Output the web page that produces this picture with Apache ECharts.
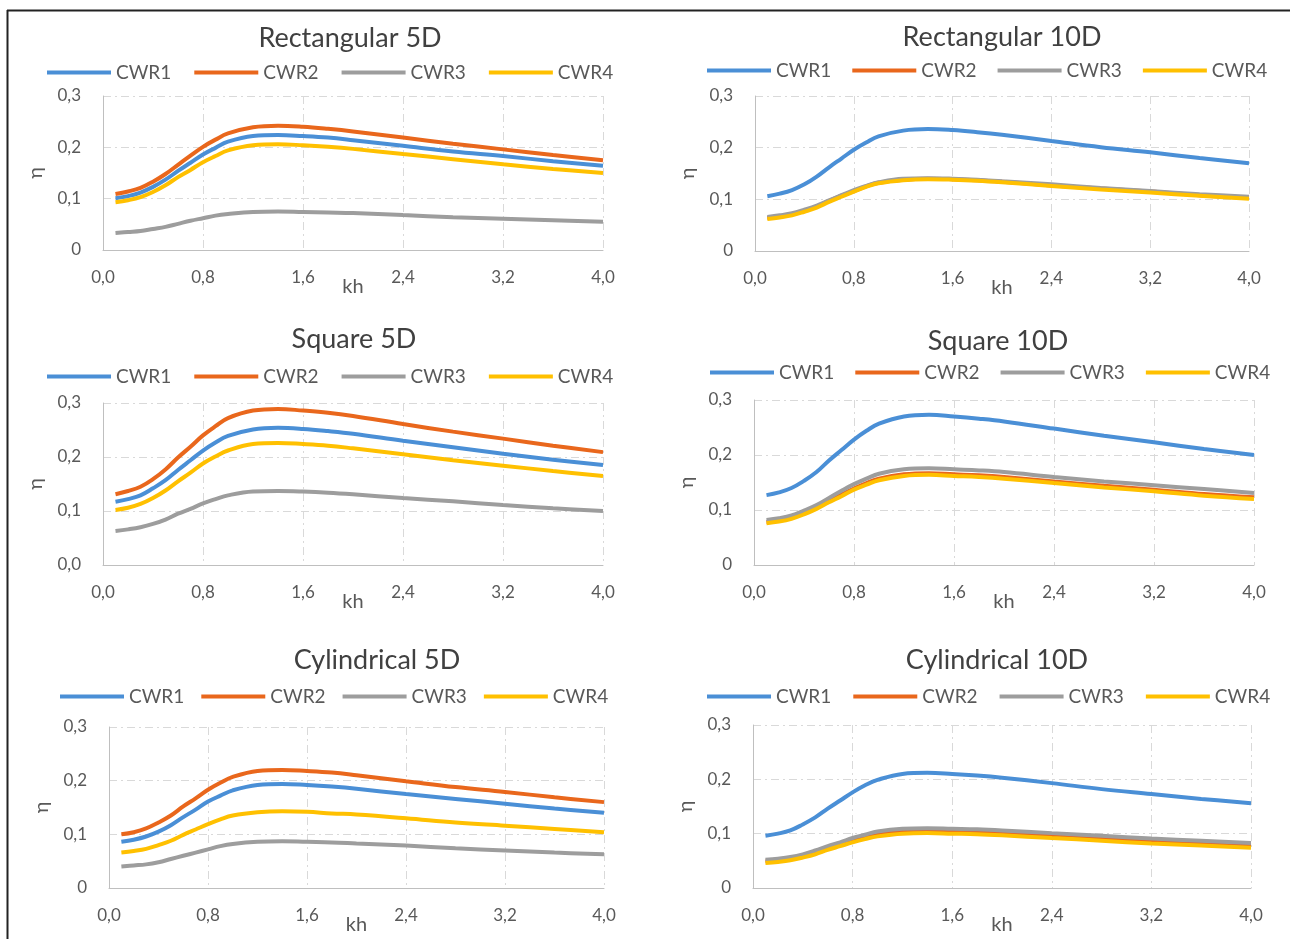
<!DOCTYPE html>
<html>
<head>
<meta charset="utf-8">
<script src="https://cdn.jsdelivr.net/npm/echarts@6/dist/echarts.min.js"></script>
<style>
html,body{margin:0;padding:0;background:#fff;}
#c{width:1290px;height:939px;}
</style>
</head>
<body>
<div id="c"></div>
<script>
// ---- data ----
const kh = [0.1,0.2,0.3,0.4,0.5,0.6,0.7,0.8,0.9,1.0,1.2,1.4,1.6,1.8,2.0,2.4,2.8,3.2,3.6,4.0];
const seriesNames = ['CWR1','CWR2','CWR3','CWR4'];
const panelTitles = ['Rectangular 5D','Rectangular 10D','Square 5D','Square 10D','Cylindrical 5D','Cylindrical 10D'];
const xTicks = [0,0.8,1.6,2.4,3.2,4.0];
const yTicks = [0,0.1,0.2,0.3];

const rect5D_CWR1 = [.101,.105,.112,.123,.137,.154,.170,.186,.199,.211,.222,.224,.222,.219,.214,.203,.192,.183,.173,.164];
const rect5D_CWR2 = [.109,.114,.121,.133,.148,.166,.184,.201,.215,.227,.239,.242,.240,.236,.231,.219,.207,.196,.185,.175];
const rect5D_CWR3 = [.033,.035,.037,.041,.045,.051,.057,.062,.067,.070,.074,.075,.074,.073,.072,.068,.064,.061,.058,.055];
const rect5D_CWR4 = [.093,.097,.103,.113,.126,.142,.156,.171,.183,.194,.204,.206,.204,.201,.197,.187,.177,.167,.158,.150];

const rect10D_CWR1 = [.106,.111,.118,.129,.144,.162,.179,.196,.210,.222,.233,.236,.234,.230,.225,.213,.201,.191,.180,.170];
const rect10D_CWR2 = [.064,.067,.071,.078,.086,.097,.107,.116,.125,.132,.138,.140,.139,.137,.134,.127,.121,.115,.108,.103];
const rect10D_CWR3 = [.066,.069,.073,.080,.088,.098,.108,.118,.126,.133,.140,.141,.140,.138,.135,.129,.122,.116,.110,.105];
const rect10D_CWR4 = [.062,.065,.069,.076,.084,.095,.105,.115,.124,.131,.137,.139,.138,.136,.133,.126,.119,.113,.107,.101];

const square5D_CWR1 = [.117,.122,.129,.142,.157,.176,.194,.212,.227,.239,.251,.254,.252,.248,.243,.230,.218,.206,.195,.185];
const square5D_CWR2 = [.131,.137,.145,.159,.177,.199,.219,.240,.257,.272,.286,.289,.286,.282,.276,.261,.247,.234,.221,.209];
const square5D_CWR3 = [.063,.066,.070,.076,.084,.095,.104,.114,.122,.129,.136,.137,.136,.134,.131,.124,.118,.111,.105,.100];
const square5D_CWR4 = [.102,.106,.113,.124,.138,.155,.171,.188,.201,.212,.224,.226,.224,.221,.216,.205,.194,.184,.174,.165];

const square10D_CWR1 = [.127,.132,.140,.153,.169,.190,.209,.228,.244,.257,.270,.273,.270,.266,.261,.248,.235,.223,.211,.200];
const square10D_CWR2 = [.078,.081,.086,.094,.104,.116,.128,.139,.149,.157,.165,.167,.165,.163,.160,.152,.144,.137,.129,.123];
const square10D_CWR3 = [.082,.085,.090,.099,.109,.122,.135,.147,.157,.166,.174,.176,.174,.172,.169,.160,.152,.145,.138,.131];
const square10D_CWR4 = [.076,.079,.084,.092,.102,.114,.125,.137,.146,.154,.162,.164,.162,.160,.157,.149,.141,.134,.126,.120];

const cyl5D_CWR1 = [.086,.090,.096,.105,.117,.132,.146,.161,.172,.182,.192,.194,.192,.189,.185,.175,.166,.157,.148,.140];
const cyl5D_CWR2 = [.100,.104,.111,.122,.135,.152,.167,.183,.196,.207,.218,.220,.218,.215,.210,.199,.188,.179,.169,.160];
const cyl5D_CWR3 = [.040,.042,.044,.048,.054,.060,.066,.072,.078,.082,.086,.087,.086,.085,.083,.079,.074,.070,.066,.063];
const cyl5D_CWR4 = [.066,.069,.073,.080,.088,.099,.109,.119,.128,.135,.141,.143,.142,.139,.137,.130,.122,.116,.110,.104];

const cyl10D_CWR1 = [.096,.100,.106,.117,.130,.146,.161,.176,.189,.199,.210,.212,.210,.207,.203,.193,.182,.173,.164,.156];
const cyl10D_CWR2 = [.049,.051,.054,.059,.065,.073,.080,.088,.094,.099,.104,.105,.104,.103,.101,.096,.091,.086,.082,.078];
const cyl10D_CWR3 = [.052,.054,.057,.062,.069,.077,.084,.092,.098,.104,.109,.110,.109,.108,.106,.101,.096,.091,.087,.083];
const cyl10D_CWR4 = [.046,.048,.051,.056,.062,.070,.077,.084,.090,.095,.100,.101,.100,.099,.097,.092,.087,.082,.078,.074];

const panelData = [
  [rect5D_CWR1, rect5D_CWR2, rect5D_CWR3, rect5D_CWR4],
  [rect10D_CWR1, rect10D_CWR2, rect10D_CWR3, rect10D_CWR4],
  [square5D_CWR1, square5D_CWR2, square5D_CWR3, square5D_CWR4],
  [square10D_CWR1, square10D_CWR2, square10D_CWR3, square10D_CWR4],
  [cyl5D_CWR1, cyl5D_CWR2, cyl5D_CWR3, cyl5D_CWR4],
  [cyl10D_CWR1, cyl10D_CWR2, cyl10D_CWR3, cyl10D_CWR4]
];
const yZeroLabels = ['0','0','0,0','0','0','0'];

// ---- layout & style ----
const FONT = 'Lato';
const colors = ['#4A8FD6','#E9671C','#9D9D9D','#FFC000'];
const layout = [
  {l:103,r:603,t:96,b:250, tx:350, ty:41, lx:47,  ly:73},
  {l:755,r:1249,t:96,b:251, tx:1002,ty:40, lx:707, ly:71},
  {l:103,r:603,t:403,b:565, tx:354, ty:342, lx:47, ly:377},
  {l:754,r:1254,t:400,b:565, tx:998, ty:344, lx:710, ly:373},
  {l:109,r:604,t:727,b:888, tx:377, ty:663, lx:60, ly:697},
  {l:753,r:1251,t:725,b:888, tx:997, ty:663, lx:707, ly:697}
];
const legendGaps = [23,21,23,21,17,22];

const chart = echarts.init(document.getElementById('c'), null, {renderer:'canvas'});
const grids=[], xAxes=[], yAxes=[], series=[], titles=[], legends=[];
const fmt = v => v.toFixed(1).replace('.', ',');

layout.forEach((L, i) => {
  grids.push({left:L.l, top:L.t, width:L.r-L.l, height:L.b-L.t, containLabel:false});
  titles.push({
    text: panelTitles[i], left: L.tx, top: L.ty-16, textAlign:'center', padding:0,
    textStyle:{fontFamily:FONT, fontSize:27, fontWeight:'normal', color:'#404040'}
  });
  legends.push({
    data: seriesNames, left: L.lx, top: L.ly-10, padding:0, itemGap: legendGaps[i],
    itemWidth:64, itemHeight:4, icon:'rect', selectedMode:false,
    textStyle:{fontFamily:FONT, fontSize:19, color:'#595959'}
  });
  xAxes.push({
    type:'value', gridIndex:i, min:0, max:4.0, interval:0.8,
    name:'kh', nameLocation:'middle', nameGap:27, nameMoveOverlap:false,
    nameTextStyle:{fontFamily:FONT, fontSize:20, color:'#595959'},
    axisLine:{show:true, lineStyle:{color:'#BFBFBF', width:1}},
    axisTick:{show:false},
    axisLabel:{margin:19, fontFamily:FONT, fontSize:17, color:'#595959',
      formatter: v => fmt(v)},
    splitLine:{show:true, lineStyle:{color:'#D9D9D9', width:1, type:[8,4,2,4]}}
  });
  yAxes.push({
    type:'value', gridIndex:i, min:0, max:0.3, interval:0.1,
    name:'η', nameLocation:'middle', nameGap:57, nameRotate:90, nameMoveOverlap:false,
    nameTextStyle:{fontFamily:FONT, fontSize:20, color:'#595959'},
    axisLine:{show:true, lineStyle:{color:'#BFBFBF', width:1}},
    axisTick:{show:false},
    axisLabel:{margin:22, fontFamily:FONT, fontSize:17, color:'#595959',
      formatter: v => (Math.abs(v) < 1e-9 ? yZeroLabels[i] : fmt(v))},
    splitLine:{show:true, lineStyle:{color:'#D9D9D9', width:1, type:[8,4,2,4]}}
  });
  panelData[i].forEach((arr, k) => {
    series.push({
      type:'line', name:seriesNames[k], xAxisIndex:i, yAxisIndex:i,
      data: kh.map((x, j) => [x, arr[j]]),
      smooth:0.4, showSymbol:false, symbol:'none',
      lineStyle:{color:colors[k], width:4},
      itemStyle:{color:colors[k]},
      z: 2 + k, animation:false
    });
  });
});

chart.setOption({
  animation:false,
  color: colors,
  title: titles,
  legend: legends,
  grid: grids,
  xAxis: xAxes,
  yAxis: yAxes,
  series: series,
  graphic: [
    {type:'line', shape:{x1:7, y1:10.5, x2:1290, y2:10.5}, style:{stroke:'#222', lineWidth:2}, silent:true},
    {type:'line', shape:{x1:7.5, y1:10, x2:7.5, y2:939}, style:{stroke:'#222', lineWidth:2}, silent:true}
  ]
});
</script>
</body>
</html>
